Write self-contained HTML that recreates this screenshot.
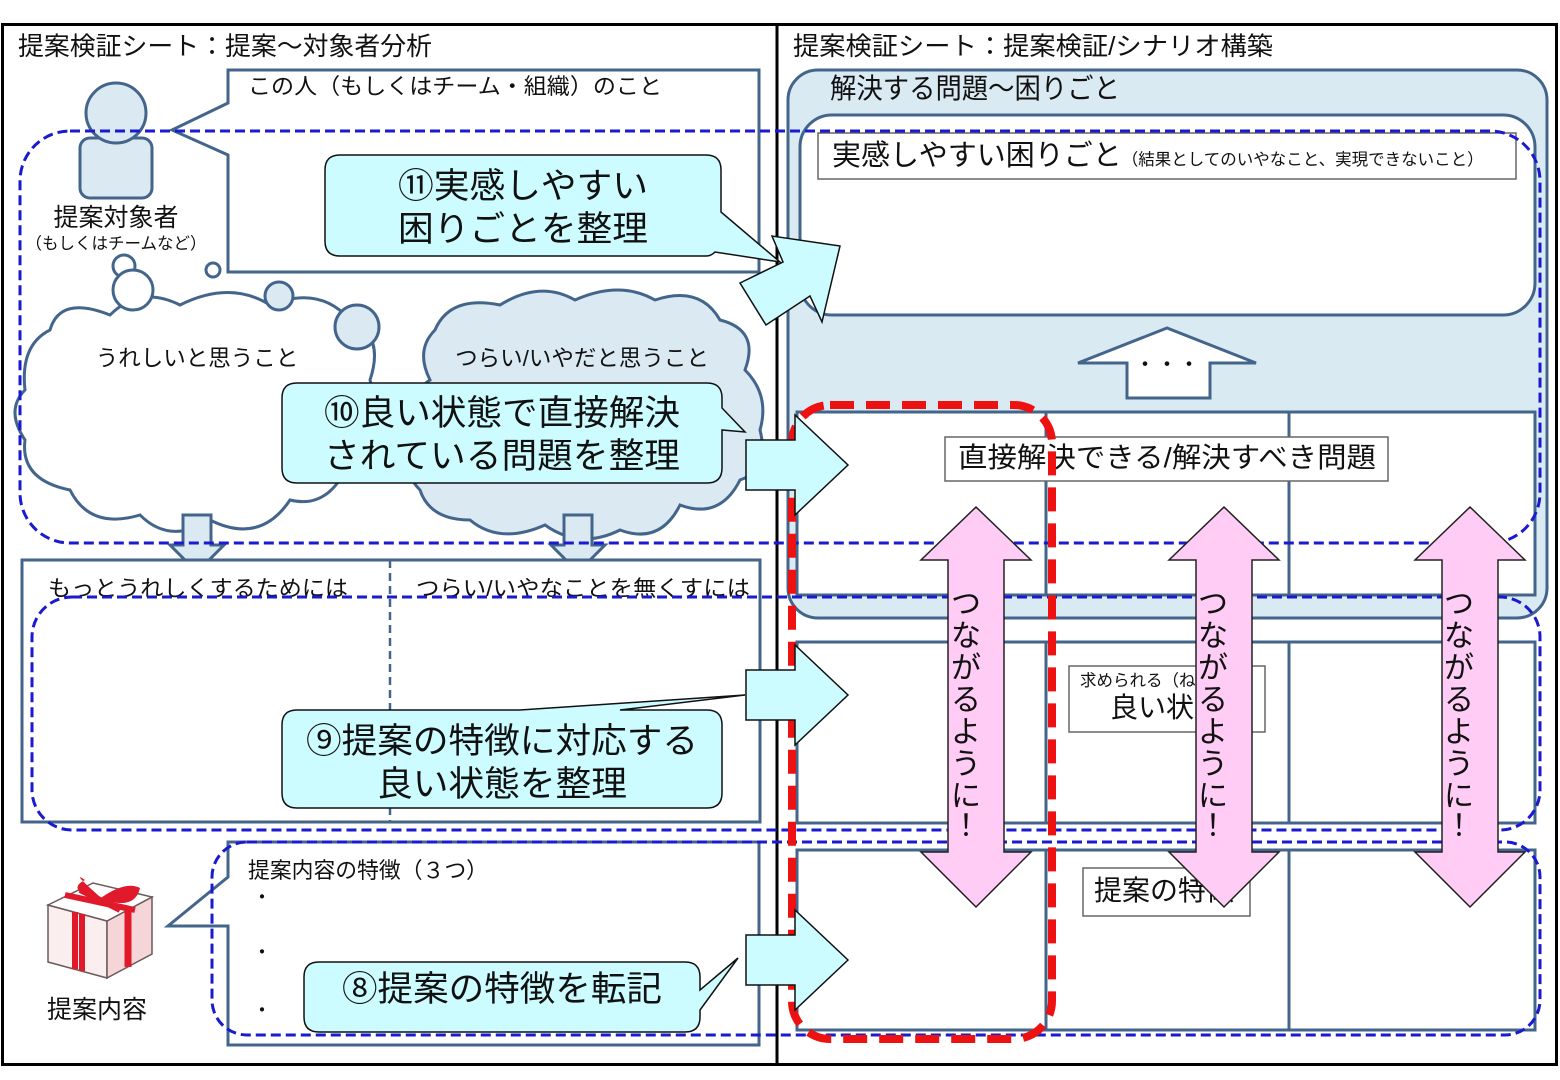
<!DOCTYPE html>
<html><head><meta charset="utf-8"><style>
html,body{margin:0;padding:0;background:#fff}
svg{display:block}
text{font-family:"Liberation Sans","Noto Sans CJK JP",sans-serif;fill:#111}
</style></head><body>
<svg width="1560" height="1080" viewBox="0 0 1560 1080" xmlns="http://www.w3.org/2000/svg">
<rect x="0" y="0" width="1560" height="1080" fill="#fff"/>
<rect x="2.5" y="24.5" width="1554" height="1040" fill="none" stroke="#000" stroke-width="3"/>
<line x1="777" y1="24" x2="777" y2="1064" stroke="#000" stroke-width="3"/>
<text x="18" y="55" font-size="25.5" textLength="414" lengthAdjust="spacingAndGlyphs">提案検証シート：提案～対象者分析</text>
<text x="793" y="55" font-size="25.5" textLength="480" lengthAdjust="spacingAndGlyphs">提案検証シート：提案検証/シナリオ構築</text>

<path d="M228,70 L759,70 L759,272 L228,272 L228,155 L172,130 L228,103 Z" fill="#fff" stroke="#44658b" stroke-width="3"/>
<text x="248" y="94" font-size="22" textLength="414" lengthAdjust="spacingAndGlyphs">この人（もしくはチーム・組織）のこと</text>
<rect x="80" y="138" width="72" height="60" rx="10" fill="#dbe9f2" stroke="#44658b" stroke-width="3"/>
<circle cx="116" cy="113" r="30" fill="#dbe9f2" stroke="#44658b" stroke-width="3"/>
<text x="116" y="226" font-size="25" text-anchor="middle">提案対象者</text>
<text x="116" y="249" font-size="16.5" text-anchor="middle">（もしくはチームなど）</text>

<g stroke="#44658b" stroke-width="3">
<path d="M50,330 Q60,295 110,315 Q140,285 180,305 Q230,280 270,305 Q320,285 350,320 Q385,335 370,380 Q385,430 350,460 Q330,510 290,500 Q260,545 210,520 Q170,545 140,515 Q90,530 70,490 Q20,480 25,440 Q5,410 25,390 Q20,345 50,330 Z" fill="#fff"/>
<path d="M435,330 Q450,295 500,305 Q540,280 575,300 Q620,280 655,300 Q700,285 720,320 Q760,330 745,370 Q770,395 760,430 Q770,470 740,480 Q720,520 680,505 Q660,545 620,530 Q580,550 545,525 Q500,545 470,520 Q430,520 420,490 Q400,470 410,440 Q400,400 430,380 Q415,350 435,330 Z" fill="#dbe9f2"/>
<circle cx="124" cy="266" r="11" fill="#fff"/>
<circle cx="133" cy="290" r="20" fill="#fff"/>
<circle cx="213" cy="270" r="7" fill="#fff"/>
<circle cx="279" cy="296" r="14" fill="#dbe9f2"/>
<circle cx="357" cy="327" r="22" fill="#dbe9f2"/>
</g>
<text x="197" y="366" font-size="22.5" text-anchor="middle">うれしいと思うこと</text>
<text x="582" y="366" font-size="22.5" text-anchor="middle">つらい/いやだと思うこと</text>
<g fill="#dbe9f2" stroke="#44658b" stroke-width="3">
<path d="M183,515 L211,515 L211,545 L224,545 L197,572 L170,545 L183,545 Z"/>
<path d="M564,515 L592,515 L592,545 L605,545 L578,572 L551,545 L564,545 Z"/>
</g>
<rect x="22" y="560" width="738" height="262" fill="#fff" stroke="#44658b" stroke-width="3"/>
<line x1="390" y1="560" x2="390" y2="822" stroke="#44658b" stroke-width="2.5" stroke-dasharray="8 5"/>
<text x="48" y="596" font-size="22" textLength="300" lengthAdjust="spacingAndGlyphs">もっとうれしくするためには</text>
<text x="416" y="596" font-size="22" textLength="334" lengthAdjust="spacingAndGlyphs">つらい/いやなことを無くすには</text>

<path d="M228,842 L759,842 L759,1045 L228,1045 L228,926 L168,926 L228,877 Z" fill="#fff" stroke="#44658b" stroke-width="3"/>
<text x="248" y="878" font-size="22" textLength="240" lengthAdjust="spacingAndGlyphs">提案内容の特徴（３つ）</text>
<text x="252" y="904" font-size="20">・</text>
<text x="252" y="959" font-size="20">・</text>
<text x="252" y="1017" font-size="20">・</text>
<g stroke="#6a5a5a" stroke-width="1.5">
<path d="M48,905 L107,921 L107,978 L48,962 Z" fill="#fbeeee"/>
<path d="M107,921 L152,897 L152,954 L107,978 Z" fill="#f5d5d8"/>
<path d="M48,905 L93,883 L152,897 L107,921 Z" fill="#fff"/>
</g>
<path d="M75,912 L75,969 M82,914 L82,971" stroke="#e01a2a" stroke-width="6"/>
<path d="M128,910 L128,967" stroke="#e01a2a" stroke-width="7"/>
<path d="M65,895 L135,910 M80,890 L120,910" stroke="#e01a2a" stroke-width="6"/>
<path d="M100,897 Q70,870 85,880 Q65,890 98,900 Q125,880 140,888 Q135,910 104,900 Z" fill="#e01a2a"/>
<text x="97" y="1018" font-size="25" text-anchor="middle">提案内容</text>

<rect x="788" y="70" width="759" height="548" rx="30" fill="#daeaf2" stroke="#44658b" stroke-width="3"/>
<text x="830" y="98" font-size="28" textLength="290" lengthAdjust="spacingAndGlyphs">解決する問題～困りごと</text>
<rect x="800" y="115" width="735" height="200" rx="32" fill="#fff" stroke="#44658b" stroke-width="3"/>
<rect x="818" y="133" width="698" height="46" fill="#fff" stroke="#666" stroke-width="1.5"/>
<text x="832" y="165" font-size="29">実感しやすい困りごと<tspan font-size="16.5">（結果としてのいやなこと、実現できないこと）</tspan></text>
<path d="M1127,398 L1210,398 L1210,363 L1256,363 L1167,328 L1078,363 L1127,363 Z" fill="#fff" stroke="#44658b" stroke-width="3"/>
<text x="1167" y="372" font-size="22" text-anchor="middle">・・・</text>

<g fill="#fff" stroke="#44658b" stroke-width="3">
<rect x="797" y="412" width="738" height="183"/>
<rect x="797" y="642" width="738" height="181"/>
<rect x="797" y="850" width="738" height="180"/>
<path d="M1046,412 V595 M1289,412 V595 M1046,642 V823 M1289,642 V823 M1046,850 V1030 M1289,850 V1030" fill="none"/>
</g>
<rect x="945" y="437" width="443" height="44" fill="#fff" stroke="#666" stroke-width="1.5"/>
<text x="958" y="467" font-size="28" textLength="418" lengthAdjust="spacingAndGlyphs">直接解決できる/解決すべき問題</text>
<rect x="1069" y="666" width="196" height="66" fill="#fff" stroke="#666" stroke-width="1.5"/>
<text x="1080" y="686" font-size="16.5">求められる（ねらいの）</text>
<text x="1110" y="717" font-size="28">良い状態</text>
<rect x="1083" y="868" width="167" height="48" fill="#fff" stroke="#666" stroke-width="1.5"/>
<text x="1094" y="900" font-size="28">提案の特徴</text>

<g fill="none" stroke="#1a1ad0" stroke-width="3" stroke-dasharray="10 5">
<rect x="20" y="131" width="1520" height="412" rx="50"/>
<rect x="32" y="597" width="1508" height="233" rx="40"/>
<rect x="212" y="842" width="1328" height="193" rx="35"/>
</g>

<g fill="#ffccf5" stroke="#222" stroke-width="1.5">
<path d="M976,507 L1031,560 L1004,560 L1004,852 L1031,852 L976,907 L921,852 L948,852 L948,560 L921,560 Z"/>
<path d="M1224,507 L1279,560 L1252,560 L1252,852 L1279,852 L1224,907 L1169,852 L1196,852 L1196,560 L1169,560 Z"/>
<path d="M1470,507 L1525,560 L1498,560 L1498,852 L1525,852 L1470,907 L1415,852 L1442,852 L1442,560 L1415,560 Z"/>
</g>
<g font-size="30" text-anchor="middle">
<text x="966" y="614">つ</text><text x="966" y="646">な</text><text x="966" y="678">が</text><text x="966" y="710">る</text><text x="966" y="742">よ</text><text x="966" y="774">う</text><text x="966" y="806">に</text><text x="966" y="836">！</text>
<text x="1213" y="614">つ</text><text x="1213" y="646">な</text><text x="1213" y="678">が</text><text x="1213" y="710">る</text><text x="1213" y="742">よ</text><text x="1213" y="774">う</text><text x="1213" y="806">に</text><text x="1213" y="836">！</text>
<text x="1459" y="614">つ</text><text x="1459" y="646">な</text><text x="1459" y="678">が</text><text x="1459" y="710">る</text><text x="1459" y="742">よ</text><text x="1459" y="774">う</text><text x="1459" y="806">に</text><text x="1459" y="836">！</text>
</g>

<rect x="792" y="405" width="260" height="634" rx="38" fill="none" stroke="#ee1111" stroke-width="8" stroke-dasharray="24 12"/>

<g fill="#ccfcff" stroke="#111" stroke-width="1.5">
<path d="M740,283 L783,262 L772,236 L840,246 L822,322 L810,296 L766,325 Z"/>
<path d="M746,440 L795,440 L795,415 L848,465 L795,515 L795,490 L746,490 Z"/>
<path d="M746,670 L795,670 L795,645 L848,695 L795,745 L795,720 L746,720 Z"/>
<path d="M746,935 L795,935 L795,910 L848,960 L795,1010 L795,985 L746,985 Z"/>
</g>

<g fill="#ccfcff" stroke="#111" stroke-width="1.5">
<path d="M340,155 L706,155 Q721,155 721,170 L721,212 L780,262 L715,252 Q711,256 706,256 L340,256 Q325,256 325,241 L325,170 Q325,155 340,155 Z"/>
<path d="M297,383 L707,383 Q722,383 722,398 L722,408 L745,432 L722,430 L722,468 Q722,483 707,483 L297,483 Q282,483 282,468 L282,398 Q282,383 297,383 Z"/>
<path d="M297,710 L520,710 L745,695 L620,710 L707,710 Q722,710 722,725 L722,793 Q722,808 707,808 L297,808 Q282,808 282,793 L282,725 Q282,710 297,710 Z"/>
<path d="M319,962 L685,962 Q700,962 700,977 L700,990 L738,958 L700,1010 L700,1017 Q700,1032 685,1032 L319,1032 Q304,1032 304,1017 L304,977 Q304,962 319,962 Z"/>
</g>
<g font-size="35" text-anchor="middle">
<text x="523" y="198" textLength="250" lengthAdjust="spacingAndGlyphs">⑪実感しやすい</text>
<text x="523" y="241" textLength="250" lengthAdjust="spacingAndGlyphs">困りごとを整理</text>
<text x="502" y="425" textLength="356" lengthAdjust="spacingAndGlyphs">⑩良い状態で直接解決</text>
<text x="502" y="468" textLength="356" lengthAdjust="spacingAndGlyphs">されている問題を整理</text>
<text x="502" y="753" textLength="392" lengthAdjust="spacingAndGlyphs">⑨提案の特徴に対応する</text>
<text x="502" y="796" textLength="250" lengthAdjust="spacingAndGlyphs">良い状態を整理</text>
<text x="502" y="1001" textLength="320" lengthAdjust="spacingAndGlyphs">⑧提案の特徴を転記</text>
</g>
</svg>
</body></html>
